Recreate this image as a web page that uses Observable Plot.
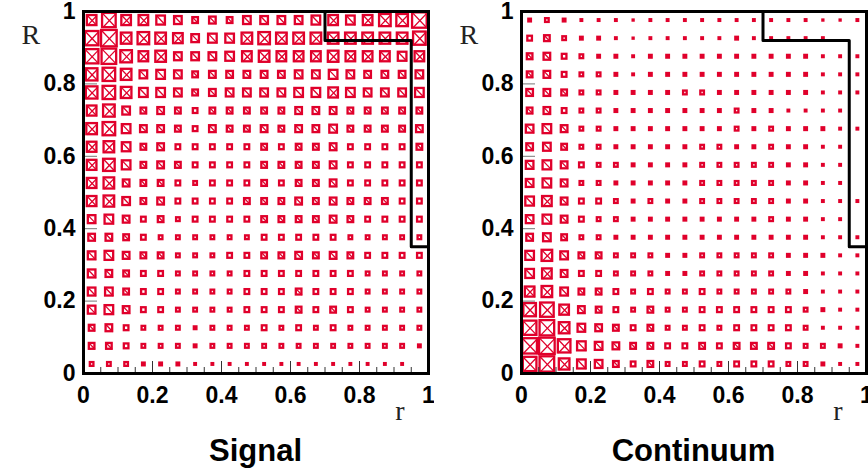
<!DOCTYPE html>
<html><head><meta charset="utf-8">
<script src="https://cdn.jsdelivr.net/npm/d3@7"></script>
<script src="https://cdn.jsdelivr.net/npm/@observablehq/plot@0.6"></script>
<style>
body{margin:0;background:#fff;}
#wrap{position:relative;width:868px;height:474px;overflow:hidden;background:#fff;}
.panel{position:absolute;top:0;}
.title{position:absolute;top:435px;width:300px;font:bold 31px "Liberation Sans",Arial,sans-serif;line-height:31px;text-align:center;color:#000;}
</style></head><body>
<div id="wrap"></div>
<script>
// bin centres (20 bins of width 0.05) for r (x) and R (y)
const binCenters = [0.025,0.075,0.125,0.175,0.225,0.275,0.325,0.375,0.425,0.475,0.525,0.575,0.625,0.675,0.725,0.775,0.825,0.875,0.925,0.975];
// rows listed from top (R = 0.975) to bottom (R = 0.025); columns r = 0.025 ... 0.975
const signal = [
 [11,15,11,11,10,9,7,8, 7,9,9,9,9,10,11,10,11,13,13,16],
 [15,17,12,13,12,11,9,10, 10,12,13,12,12,12,12,12,12,12,12,14],
 [15,16,13,11,12,9,9,9, 10,11,12,11,11,11,12,11,11,11,10,11],
 [13,14,12,9,10,9,7,8, 8,8,8,8,9,9,10,9,8,8,8,9],
 [13,14,12,10,10,9,7,8, 9,9,9,9,10,10,11,10,9,9,9,10],
 [11,13,9,7,8,7,6,7, 7,7,7,7,8,8,8,7,7,7,7,7],
 [12,14,10,8,8,7,6,8, 7,7,8,7,8,8,9,7,7,7,7,8],
 [11,12,10,7,8,6,6,6, 6,6,7,6,7,7,8,6,6,6,6,7],
 [11,13,10,7,8,7,6,6, 6,6,7,7,7,7,8,6,6,6,6,6],
 [11,12,8,7,7,6,5,6, 6,6,7,6,7,7,8,6,6,6,6,6],
 [11,12,9,7,8,6,6,6, 6,7,7,7,8,7,8,7,7,7,6,6],
 [9,10,8,6,7,5,6,6, 6,6,7,7,7,7,8,7,6,6,6,6],
 [8,8,7,6,5,5,5,5, 5,5,6,6,6,6,6,5,5,5,5,5],
 [9,10,8,7,7,5,5,5, 6,6,7,7,8,7,8,7,6,6,6,6],
 [9,8,7,6,6,5,5,5, 5,6,6,6,6,6,6,6,5,5,5,5],
 [9,9,7,6,6,5,5,5, 5,6,6,6,7,6,6,6,5,5,5,5],
 [9,10,8,6,6,5,5,5, 5,6,6,6,7,6,7,6,5,5,5,5],
 [7,8,6,5,5,5,4,5, 5,5,6,5,6,5,6,5,5,5,5,5],
 [7,7,6,5,5,5,4,5, 5,5,5,5,5,5,5,5,5,5,5,4],
 [5,5,5,4,4,4,3,3, 3,3,3,3,3,3,3,3,3,3,3,0]
];
const continuum = [
 [4,5,4,3,3,3,2,3, 3,3,3,3,3,3,3,3,3,2,2,3],
 [6,7,5,4,4,3,2,3, 3,3,3,3,4,3,3,3,3,3,0,0],
 [7,8,6,5,4,4,3,4, 4,4,4,4,4,4,4,4,4,3,3,3],
 [7,8,6,5,5,4,3,4, 4,4,4,4,4,4,4,4,4,3,3,3],
 [8,8,7,5,5,4,4,4, 4,5,5,4,4,4,4,4,4,3,3,3],
 [7,8,6,5,5,4,4,4, 4,4,4,4,5,4,4,3,3,3,3,0],
 [9,10,8,5,5,4,4,4, 4,4,4,4,5,4,5,4,4,4,3,3],
 [8,9,7,5,5,4,4,4, 4,4,5,5,4,4,5,4,4,3,3,0],
 [9,10,8,6,5,5,4,4, 4,4,5,5,5,5,5,4,4,3,3,0],
 [9,10,8,5,5,4,4,4, 4,4,5,5,5,5,5,4,4,3,3,0],
 [10,11,8,6,6,5,4,5, 4,4,5,5,5,5,5,4,4,3,3,3],
 [9,10,8,6,5,5,4,4, 4,4,4,4,4,4,5,4,4,3,3,0],
 [8,9,7,5,5,4,4,4, 4,4,4,4,4,4,4,4,4,3,3,3],
 [10,12,9,7,7,5,5,5, 4,4,5,5,5,5,5,4,4,4,3,3],
 [10,11,8,6,6,5,5,5, 4,4,5,5,5,5,5,4,4,3,3,3],
 [11,12,9,7,7,6,5,6, 5,5,6,5,5,5,5,5,4,3,3,3],
 [14,15,11,8,7,6,5,7, 5,5,6,6,6,6,6,6,5,4,3,3],
 [15,16,12,9,8,7,6,7, 5,5,6,5,6,6,6,6,5,3,3,3],
 [16,17,14,10,9,8,7,7, 6,6,7,6,7,7,7,6,5,5,4,3],
 [15,16,12,10,9,7,6,7, 5,5,6,5,6,6,6,5,5,4,3,3]
];
// selection boundary
const cutr = [0.7, 0.7, 0.95, 0.95, 1];
const cutR = [1, 0.92, 0.92, 0.35, 0.35];
const majorTicks = [0, 0.2, 0.4, 0.6, 0.8, 1];
const minorTicks = [0.05,0.1,0.15,0.25,0.3,0.35,0.45,0.5,0.55,0.65,0.7,0.75,0.85,0.9,0.95];
const titles = ["Signal", "Continuum"];

const RED = "#e0002b";
const UNIT = 0.05 / 17.25;   // box side (data units) per unit of content
const SW = 2.3;

function cellsOf(grid) {
  const out = [];
  grid.forEach((row, k) => row.forEach((v, j) => {
    if (v > 0) out.push({r: binCenters[j], R: binCenters[19 - k], v});
  }));
  return out;
}
const half = d => Math.max(d.v - 1.4, 1) * UNIT / 2;

function panel(grid, ml, mr) {
  const cells = cellsOf(grid);
  const big = cells.filter(d => d.v >= 11);
  const mid = cells.filter(d => d.v >= 7);
  const cut = cutr.map((r, i) => ({r, R: cutR[i]}));
  const lbl = {fontFamily: '"Liberation Serif","Times New Roman",serif', fontSize: 28, fontWeight: "normal", fill: "#222"};
  return Plot.plot({
    width: 434, height: 434,
    marginLeft: ml, marginRight: mr, marginTop: 11, marginBottom: 61,
    x: {domain: [0, 1]}, y: {domain: [0, 1]},
    style: {fontFamily: '"Liberation Sans",Arial,sans-serif', fontSize: "23px", fontWeight: "bold", color: "#000", background: "#fff", overflow: "visible"},
    marks: [
      Plot.rect(cells, {
        x1: d => d.r - half(d), x2: d => d.r + half(d),
        y1: d => d.R - half(d), y2: d => d.R + half(d),
        fill: d => d.v <= 4 ? RED : "#fff", stroke: RED, strokeWidth: SW
      }),
      Plot.link(mid, {x1: d => d.r - half(d), y1: d => d.R + half(d), x2: d => d.r + half(d), y2: d => d.R - half(d), stroke: RED, strokeWidth: 1.3}),
      Plot.link(big, {x1: d => d.r - half(d), y1: d => d.R - half(d), x2: d => d.r + half(d), y2: d => d.R + half(d), stroke: RED, strokeWidth: 1.3}),
      Plot.axisY({ticks: majorTicks, tickSize: -14, fill: "none", stroke: "#777", label: null}),
      Plot.axisY({ticks: majorTicks, tickSize: 0, tickPadding: 8, tickFormat: d => String(d), label: null}),
      Plot.axisX({ticks: majorTicks, tickSize: -12, fill: "none", stroke: "#333", label: null}),
      Plot.axisX({ticks: minorTicks, tickSize: -6, fill: "none", stroke: "#333", label: null}),
      Plot.axisX({ticks: majorTicks, tickSize: 0, tickPadding: 13, tickFormat: d => String(d), label: null}),
      Plot.line(cut, {x: "r", y: "R", stroke: "#000", strokeWidth: 3}),
      Plot.frame({stroke: "#000", strokeWidth: 3}),
      Plot.text(["R"], {frameAnchor: "top-left", dx: -62, dy: 13, ...lbl}),
      Plot.text(["r"], {frameAnchor: "bottom-right", dx: -24, dy: 46, ...lbl})
    ]
  });
}

const wrap = document.getElementById("wrap");
[[signal, 83, 6, 0], [continuum, 87, 2, 434]].forEach(([g, ml, mr, left], i) => {
  const svg = panel(g, ml, mr);
  svg.classList.add("panel");
  svg.style.left = left + "px";
  wrap.appendChild(svg);
  const t = document.createElement("div");
  t.className = "title";
  t.textContent = titles[i];
  const center = left + ml + (434 - ml - mr) / 2;
  t.style.left = (center - 150) + "px";
  wrap.appendChild(t);
});
</script>
</body></html>
